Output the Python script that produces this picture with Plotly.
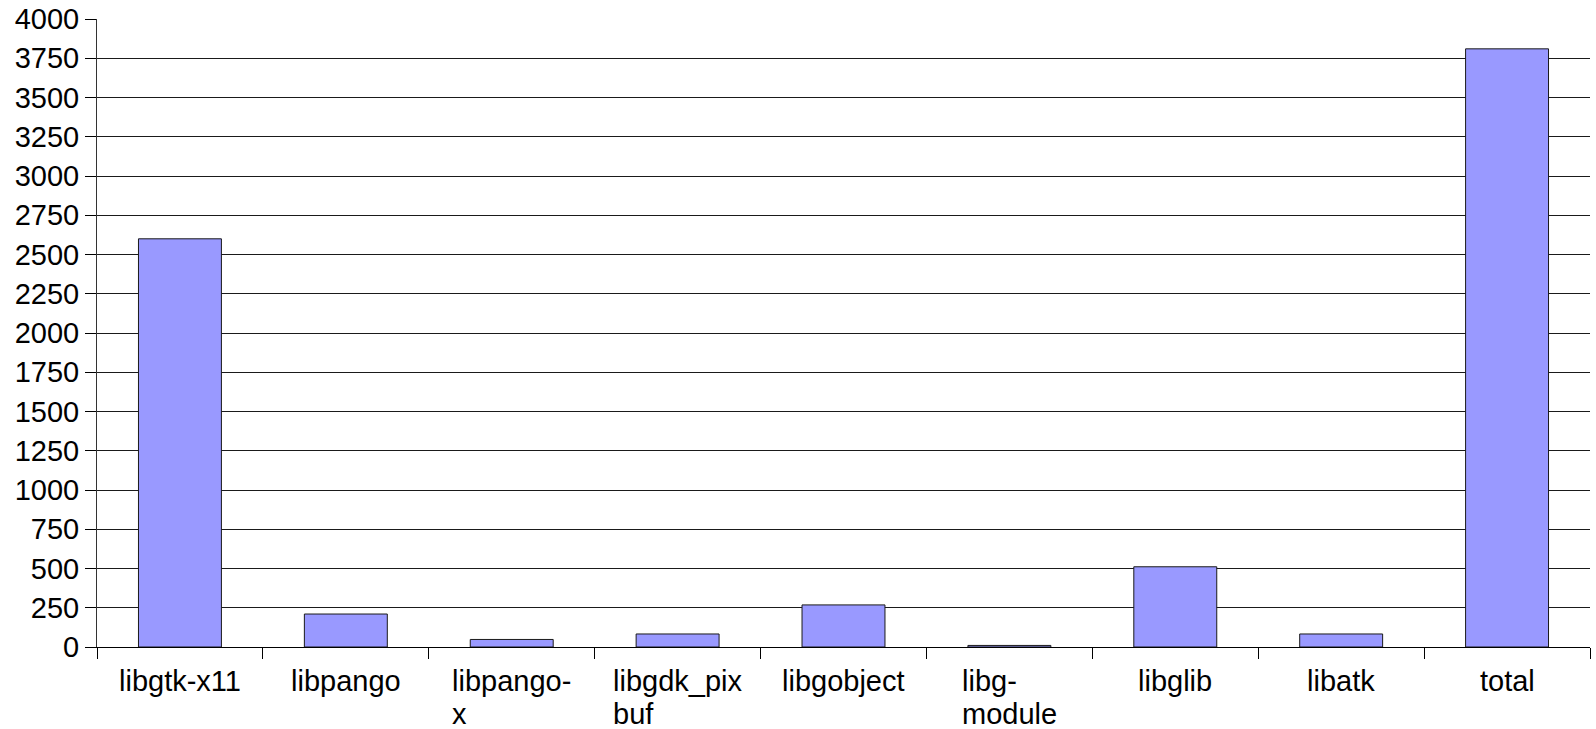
import plotly.graph_objects as go

categories = ["libgtk-x11", "libpango", "libpango-x", "libgdk_pixbuf", "libgobject",
              "libg-module", "libglib", "libatk", "total"]
label_lines = [["libgtk-x11"], ["libpango"], ["libpango-", "x"], ["libgdk_pix", "buf"],
               ["libgobject"], ["libg-", "module"], ["libglib"], ["libatk"], ["total"]]
values = [2600, 210, 48, 83, 268, 10, 511, 83, 3810]
y_ticks = list(range(0, 4001, 250))

FONT = "Liberation Sans, Arial, sans-serif"
FS = 29

fig = go.Figure()
fig.add_trace(go.Bar(
    x=categories, y=values,
    marker=dict(color="#9999ff", line=dict(color="#1a1a1a", width=1)),
    width=0.5,
))

for cat, lines in zip(categories, label_lines):
    txt = "<br>".join(f'<span style="font-size:{FS}px">{ln}</span>' for ln in lines)
    fig.add_annotation(
        x=cat, y=0, xref="x", yref="paper",
        text=txt, showarrow=False, xanchor="center", yanchor="top",
        align="left", yshift=-16,
        font=dict(family=FONT, size=25.5, color="#000000"),
    )

fig.update_layout(
    template="none",
    width=1596, height=729,
    margin=dict(l=97, r=6, t=19, b=82),
    paper_bgcolor="white", plot_bgcolor="white",
    showlegend=False,
    font=dict(family=FONT, size=FS, color="#000000"),
    xaxis=dict(
        type="category", range=[-0.5, 8.5], automargin=False,
        showgrid=False, showline=True, linecolor="#000000", linewidth=1,
        ticks="outside", tickson="boundaries", ticklen=11, tickcolor="#000000",
        showticklabels=False, zeroline=False,
    ),
    yaxis=dict(
        range=[0, 4000], tickvals=y_ticks, automargin=False,
        showgrid=True, gridcolor="#1a1a1a", gridwidth=1,
        showline=True, linecolor="#333333", linewidth=1,
        ticks="outside", ticklen=11, tickcolor="#000000",
        ticklabelstandoff=0, zeroline=False,
        tickfont=dict(family=FONT, size=FS, color="#000000"),
    ),
)

fig.write_html("out.html")
